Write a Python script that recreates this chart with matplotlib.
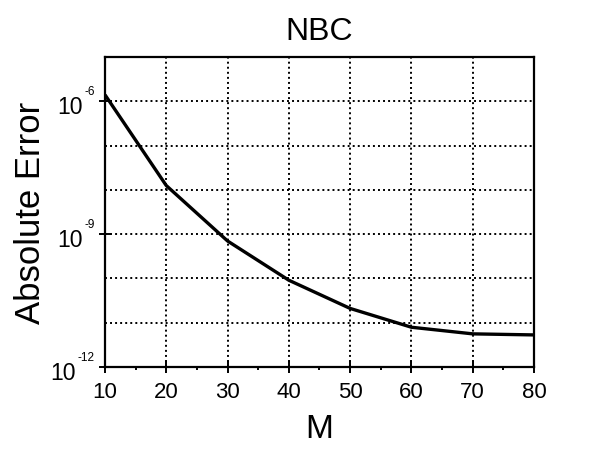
import matplotlib
matplotlib.use("Agg")
import matplotlib.pyplot as plt
from matplotlib.ticker import FixedLocator, NullFormatter, NullLocator
from matplotlib.transforms import offset_copy, blended_transform_factory

plt.rcParams["font.family"] = ["Liberation Sans", "DejaVu Sans"]

# values
M = [10, 20, 30, 40, 50, 60, 70, 80]
abs_error = [1.4e-6, 1.25e-8, 7.0e-10, 9.1e-11, 2.1e-11, 7.9e-12, 5.6e-12, 5.3e-12]
x_ticks = [10, 20, 30, 40, 50, 60, 70, 80]
y_grid = [1e-11, 1e-10, 1e-9, 1e-8, 1e-7, 1e-6]
y_labels = [(1e-6, "-6"), (1e-9, "-9"), (1e-12, "-12")]

fig = plt.figure(figsize=(6.11, 4.6), dpi=100)
ax = fig.add_axes([0.1718, 0.2, 0.7022, 0.674])

ax.plot(M, abs_error, color="black", lw=2.4, solid_capstyle="butt")
ax.set_yscale("log")
ax.set_xlim(10, 80)
ax.set_ylim(1e-12, 1e-5)

for s in ax.spines.values():
    s.set_linewidth(1.6)

# grid
for gx in x_ticks[1:-1]:
    ax.axvline(gx, color="black", lw=1.4, ls=(0, (1, 1.6)), zorder=0)
for gy in y_grid:
    ax.axhline(gy, color="black", lw=1.4, ls=(0, (1, 1.6)), zorder=0)

ax.xaxis.set_major_locator(FixedLocator(x_ticks))
ax.xaxis.set_minor_locator(FixedLocator([t + 5 for t in x_ticks[:-1]]))
ax.tick_params(axis="x", which="major", direction="inout", length=8, width=1.4,
               labelsize=16, pad=6)
ax.tick_params(axis="x", which="minor", direction="out", length=2.5, width=1.4)

ax.yaxis.set_major_locator(FixedLocator([v for v, _ in y_labels]))
ax.yaxis.set_minor_locator(NullLocator())
ax.yaxis.set_major_formatter(NullFormatter())
ax.yaxis.set_minor_formatter(NullFormatter())
ax.tick_params(axis="y", which="major", direction="inout", length=8, width=1.4)

# y tick labels drawn as "10" with a small raised exponent
trans = blended_transform_factory(ax.transAxes, ax.transData)
for val, exp in y_labels:
    et = ax.text(0, val, exp, fontsize=8.5,
                 transform=offset_copy(trans, fig=fig, x=-10, y=4, units="dots"),
                 ha="right", va="bottom")
    ax.annotate("10", xy=(0, 0), xycoords=et, xytext=(-2, -16),
                textcoords="offset pixels", ha="right", va="baseline", fontsize=16.5)

ax.set_title("NBC", fontsize=23, pad=13)
ax.set_xlabel("M", fontsize=24, labelpad=8)
ax.set_ylabel("Absolute Error", fontsize=25, labelpad=34)

fig.savefig("out.png", dpi=100)
